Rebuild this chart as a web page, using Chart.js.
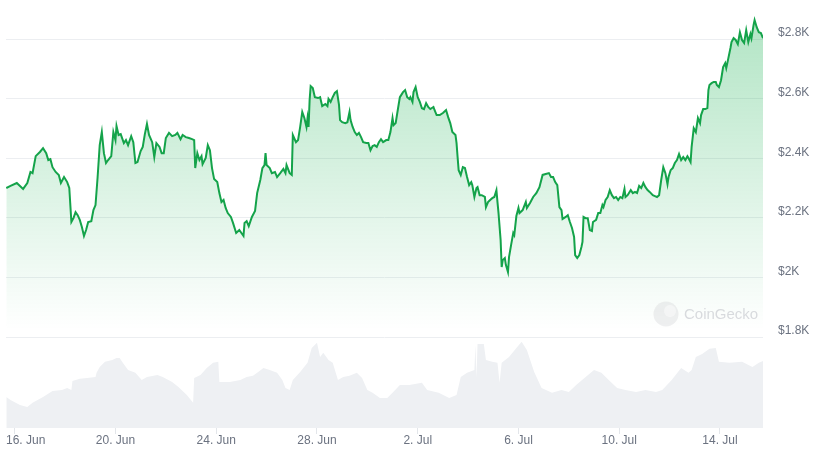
<!DOCTYPE html>
<html><head><meta charset="utf-8">
<script src="https://cdn.jsdelivr.net/npm/chart.js@4.4.1/dist/chart.umd.min.js"></script>
<style>
html,body{margin:0;padding:0;background:#fff;}
#wrap{position:relative;width:818px;height:460px;overflow:hidden;background:#fff;}
#price{position:absolute;left:0;top:0;}
#vol{position:absolute;left:0;top:337px;}
</style></head><body>
<div id="wrap">
<canvas id="price" width="818" height="345"></canvas>
<canvas id="vol" width="818" height="123"></canvas>
</div>
<script>
// hours since 16 Jun 00:00
const priceHours = [
-8,-4,2,8,12,15,17,20,24,27,
30,32,34,36,39,42,44,47,50,52,
54,56,58,60,62,64,66,68,70,73,
75,77,79,81,83,85,87,89,92,94,
96,97,99,101,104,106,108,111,113,115,
117,120,122,124,126,128,131,133,135,138,
140,142,144,147,150,153,155,158,160,163,
166,169,171,172,174,176,178,179,182,184,
186,188,190,193,195,197,199,201,203,206,
208,211,214,216,218,219,221,223,226,229,
231,
234,236,238,239,240,243,245,248,250,253,
256,258,259,262,264,265,268,270,272,274,
276,278,279,280,281,282,284,286,289,291,
293,296,298,299,301,303,305,307,309,310,
312,315,317,319,320,322,324,326,328,330,
332,335,337,339,341,343,345,347,349,351,
354,356,358,360,361,363,365,367,370,372,
374,376,377,379,380,382,384,386,388,390,
392,394,396,399,400,402,405,408,411,413,
415,417,420,421,422,423,425,427,429,431,
433,435,436,438,440,441,443,445,448,449,
451,453,455,457,459,460,461,463,464,465,
467,468,470,471,473,475,476,478,480,
481,484,487,488,491,494,497,500,501,503,
506,509,511,513,515,517,519,521,522,525,
527,529,531,533,534,536,538,540,541,542,
544,546,548,550,551,554,556,558,560,561,
563,565,567,569,571,573,575,577,579,581,
582,584,587,589,591,593,595,597,599,601,
603,605,608,610,612,614,616,618,620,622,
623,625,627,629,631,633,635,637,639,641,
642,644,645,647,649,651,653,654,656,658,
660,661,662,664,666,668,669,671,673,675,
677,678,680,682,683,685,687,689,691,693,
695,697,699,701,702,704,705,707,709,711,
713
];
const priceValues = [
2300,2307,2317,2297,2317,2354,2350,2407,2421,2434,
2417,2394,2397,2370,2354,2344,2317,2337,2320,2300,
2186,2199,2219,2209,2193,2169,2139,2159,2186,2189,
2226,2243,2337,2444,2488,2417,2384,2394,2407,2488,
2461,2508,2478,2481,2451,2461,2444,2474,2454,2384,
2387,2424,2438,2481,2515,2478,2454,2404,2451,2438,
2417,2417,2468,2485,2474,2478,2485,2464,2478,2471,
2468,2464,2461,2367,2417,2394,2407,2380,2401,2444,
2427,2367,2330,2320,2283,2253,2260,2233,2216,2203,
2183,2149,2159,2149,2139,2183,2189,2172,2203,2223,
2283,
2327,2367,2377,2417,2377,2367,2350,2354,2337,2350,
2364,2350,2377,2350,2344,2478,2454,2461,2505,2555,
2535,2505,2535,2505,2595,2642,2636,2605,2602,2605,
2575,2582,2575,2599,2589,2605,2619,2625,2579,2528,
2521,2518,2521,2555,2528,2505,2488,2478,2485,2471,
2454,2451,2451,2427,2441,2444,2438,2454,2464,2454,
2461,2461,2488,2535,2511,2518,2562,2605,2622,2629,
2605,2599,2605,2589,2622,2639,2605,2589,2568,2565,
2585,2572,2565,2572,2562,2545,2545,2552,2562,2538,
2518,2488,2478,2451,2404,2360,2344,2370,2367,2337,
2310,2320,2310,2270,2300,2303,2276,2276,2270,2236,
2253,2260,2266,2270,2293,2253,2216,2125,2035,2058,
2065,2042,2018,2068,2109,2149,2142,2206,2233,
2216,2226,2253,2233,2250,2270,2283,2303,2317,2344,
2347,2350,2337,2337,2320,2310,2236,2226,2196,2203,
2209,2186,2166,2136,2075,2065,2075,2102,2119,2203,
2199,2199,2159,2156,2186,2193,2216,2216,2243,2236,
2260,2270,2293,2276,2266,2270,2260,2270,2266,2297,
2270,2276,2293,2283,2287,2283,2307,2300,2317,2303,
2293,2287,2276,2273,2270,2276,2327,2370,2350,2313,
2337,2360,2367,2384,2394,2414,2394,2404,2394,2407,
2401,2387,2438,2501,2488,2535,2518,2545,2565,2565,
2568,2629,2646,2652,2656,2656,2646,2639,2662,2706,
2719,2703,2736,2770,2790,2803,2797,2783,2823,2797,
2787,2830,2790,2817,2803,2847,2864,2840,2823,2820,
2803
];
const volumeHours = [
-8,-4,5,12,17,27,36,45,50,54,
55,62,69,77,78,81,86,93,97,100,
103,108,115,121,126,136,141,150,156,164,
170,171,177,183,189,194,195,205,215,221,
227,232,237,243,250,255,258,262,265,272,
279,283,288,291,294,299,303,308,313,319,
326,331,336,341,348,355,360,367,376,388,
393,404,414,421,425,431,438,439,440,441,
447,449,455,460,462,464,471,478,483,488,
495,502,512,521,528,535,544,552,559,566,
574,582,592,601,611,617,626,635,642,645,
649,655,662,668,671,681,693,703,709,713
];
// volume in $B
const volumeValues = [
10.2,9.2,7.6,6.9,8.3,10.2,12.2,12.5,13.2,12.5,
15.5,16.2,16.5,16.8,18.2,20.1,21.8,22.4,23.1,23.1,
21.5,19.1,18.2,15.8,16.8,17.5,16.8,15.2,13.5,10.9,
8.3,16.5,17.5,19.8,21.5,21.8,15.2,15.2,15.8,16.8,
17.2,18.5,19.8,19.1,18.2,15.8,13.2,12.5,15.8,18.5,
21.5,26.4,28.1,23.4,24.8,22.4,21.5,15.8,16.8,17.2,
18.2,16.5,12.5,11.6,9.9,9.9,11.6,14.2,14.2,14.9,
12.5,11.6,9.9,10.9,16.8,18.2,19.1,27.4,16.5,27.7,
27.7,22.4,21.8,21.5,14.9,21.5,23.4,26.4,28.4,25.7,
18.5,13.2,11.6,12.5,11.9,14.2,16.8,19.1,18.2,15.8,
13.2,12.5,11.9,12.5,11.9,12.5,15.8,19.8,18.2,19.1,
23.4,24.4,26.1,26.4,21.8,21.5,21.8,20.1,21.5,22.1
];
const priceTicks = [1800, 2000, 2200, 2400, 2600, 2800];
const dateTickHours = [0, 96, 192, 288, 384, 480, 576, 672];
const dateTickLabels = ['16. Jun', '20. Jun', '24. Jun', '28. Jun', '2. Jul', '6. Jul', '10. Jul', '14. Jul'];
const brandText = 'CoinGecko';

const X_MIN = -8.3, X_MAX = 713;
Chart.defaults.font.family = '"Liberation Sans", Arial, sans-serif';

function pairs(xs, ys){
  const n = Math.min(xs.length, ys.length);
  const out = [];
  for (let i = 0; i < n; i++) out.push({x: xs[i], y: ys[i]});
  return out;
}

const watermark = {
  id: 'watermark',
  afterDatasetsDraw(chart){
    const c = chart.ctx;
    c.save();
    c.beginPath();
    c.arc(666, 314, 12.5, 0, Math.PI*2);
    c.fillStyle = 'rgba(205,208,212,0.35)';
    c.fill();
    c.beginPath();
    c.arc(670, 311, 6, 0, Math.PI*2);
    c.fillStyle = 'rgba(255,255,255,0.45)';
    c.fill();
    c.font = '15px "Liberation Sans", Arial, sans-serif';
    c.fillStyle = 'rgba(185,190,196,0.55)';
    c.textBaseline = 'middle';
    c.textAlign = 'left';
    c.fillText(brandText, 684, 315);
    c.restore();
  }
};

new Chart(document.getElementById('price'), {
  type: 'line',
  data: { datasets: [{
    data: pairs(priceHours, priceValues),
    borderColor: 'rgb(20,163,74)',
    borderWidth: 2,
    pointRadius: 0,
    tension: 0,
    fill: 'start',
    backgroundColor: (ctx) => {
      const ca = ctx.chart.chartArea;
      if (!ca) return 'rgba(0,168,62,0.15)';
      const g = ctx.chart.ctx.createLinearGradient(0, 0, 0, 330);
      g.addColorStop(0, 'rgba(0,168,62,0.32)');
      g.addColorStop(1, 'rgba(0,168,62,0.0)');
      return g;
    }
  }]},
  options: {
    responsive: false,
    animation: false,
    layout: { padding: { left: 6, right: 0, top: 0, bottom: 8 } },
    plugins: { legend: { display: false }, tooltip: { enabled: false } },
    scales: {
      x: { type: 'linear', min: X_MIN, max: X_MAX, display: false },
      y: {
        position: 'right', min: 1800, max: 2907,
        afterBuildTicks: (s) => { s.ticks = priceTicks.map(v => ({ value: v })); },
        afterFit: (s) => { s.width = 55; },
        grid: { color: '#eceef1', drawTicks: true, tickLength: 15, tickColor: 'rgba(0,0,0,0)', lineWidth: 1 },
        border: { display: false },
        ticks: {
          padding: 0, labelOffset: -6, color: '#6b7280',
          font: { size: 12 },
          callback: (v) => '$' + (v / 1000) + 'K'
        }
      }
    }
  },
  plugins: [watermark]
});

const xLabels = {
  id: 'xLabels',
  afterDraw(chart){
    const s = chart.scales.x;
    const c = chart.ctx;
    c.save();
    c.font = '12px "Liberation Sans", Arial, sans-serif';
    c.fillStyle = '#6b7280';
    c.textBaseline = 'middle';
    c.textAlign = 'left';
    dateTickHours.forEach((h, i) => {
      const t = dateTickLabels[i];
      const w = c.measureText(t).width;
      let px = s.getPixelForValue(h) - w / 2;
      if (px < chart.chartArea.left) px = chart.chartArea.left;
      c.fillText(t, px, 104);
    });
    c.restore();
  }
};

new Chart(document.getElementById('vol'), {
  type: 'line',
  data: { datasets: [{
    data: pairs(volumeHours, volumeValues),
    borderWidth: 0,
    borderColor: 'rgba(0,0,0,0)',
    pointRadius: 0,
    tension: 0,
    fill: 'start',
    backgroundColor: '#eef0f3'
  }]},
  options: {
    responsive: false,
    animation: false,
    layout: { padding: { left: 6, right: 55, top: 0, bottom: 0 } },
    plugins: { legend: { display: false }, tooltip: { enabled: false } },
    scales: {
      x: {
        type: 'linear', min: X_MIN, max: X_MAX,
        afterBuildTicks: (s) => { s.ticks = dateTickHours.map(v => ({ value: v })); },
        afterFit: (s) => { s.height = 32; },
        grid: { drawOnChartArea: false, drawTicks: true, tickLength: 6, color: '#e3e6ea' },
        border: { display: false },
        ticks: { display: false }
      },
      y: { display: false, min: 0, max: 30 }
    }
  },
  plugins: [xLabels]
});
</script>
</body></html>
